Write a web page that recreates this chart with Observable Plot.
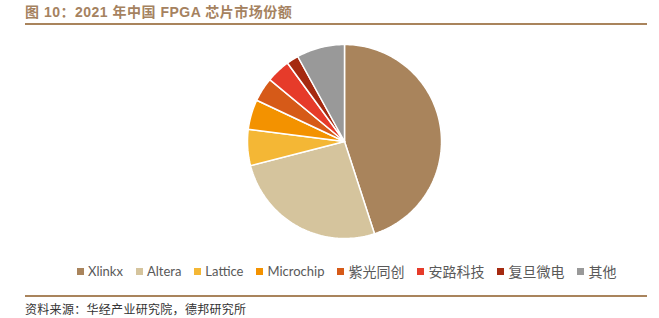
<!DOCTYPE html>
<html>
<head>
<meta charset="utf-8">
<script src="https://cdn.jsdelivr.net/npm/d3@7"></script>
<script src="https://cdn.jsdelivr.net/npm/@observablehq/plot@0.6"></script>
<style>
  body { margin: 0; background: #fff; }
  #wrap { position: relative; width: 659px; height: 318px; overflow: hidden; font-family: "Noto Sans", "Noto Sans CJK SC", sans-serif; }
  #title { position: absolute; left: 25px; top: 1px; font-size: 14px; letter-spacing: 0.5px; font-weight: bold; color: #A5825F; white-space: nowrap; font-family: "Liberation Sans", "Noto Sans CJK SC", sans-serif; }
  .rule { position: absolute; left: 25px; width: 622px; height: 2px; background: #A9845C; }
  #chart { position: absolute; left: 0; top: 30px; }
  #legend { position: absolute; left: 77px; top: 261px; display: flex; align-items: center; font-size: 13px; color: #595959; white-space: nowrap; font-family: "Lato", "Noto Sans CJK SC", sans-serif; }
  .item { display: flex; align-items: center; margin-right: 13px; }
  .sw { width: 7px; height: 7px; margin-right: 4px; }
  .cjk { font-family: "Noto Sans CJK SC", sans-serif; font-size: 14px; }
  #caption { position: absolute; left: 25px; top: 300px; font-size: 12px; letter-spacing: 0.3px; color: #333; font-family: "Noto Sans CJK SC", sans-serif; white-space: nowrap; }
</style>
</head>
<body>
<div id="wrap">
  <div id="title">图 10：2021 年中国 FPGA 芯片市场份额</div>
  <div class="rule" style="top:23px"></div>
  <div id="chart"></div>
  <div id="legend"></div>
  <div class="rule" style="top:295px"></div>
  <div id="caption">资料来源：华经产业研究院，德邦研究所</div>
</div>
<script>
const categories = ["Xlinkx", "Altera", "Lattice", "Microchip", "紫光同创", "安路科技", "复旦微电", "其他"];
const shares = [45, 26, 6, 5, 4, 4, 2, 8];
const colors = ["#A9845C", "#D5C49D", "#F4B735", "#F39200", "#D65A18", "#E63B2A", "#A52A10", "#999999"];

// Build slice polygons from the shares (angles clockwise from 12 o'clock)
const total = d3.sum(shares);
const pts = [];
let acc = 0;
categories.forEach((c, i) => {
  const a0 = acc / total * 2 * Math.PI;
  acc += shares[i];
  const a1 = acc / total * 2 * Math.PI;
  pts.push({cat: c, x: 0, y: 0});
  const n = Math.max(2, Math.ceil((a1 - a0) / (Math.PI / 180)));
  for (let k = 0; k <= n; k++) {
    const a = a0 + (a1 - a0) * k / n;
    pts.push({cat: c, x: Math.sin(a), y: Math.cos(a)});
  }
  pts.push({cat: c, x: 0, y: 0});
});

const cx = 344, r = 97, H = 220, cy = 111;
const plot = Plot.plot({
  width: 659,
  height: H,
  marginLeft: cx - r,
  marginRight: 659 - (cx + r),
  marginTop: cy - r,
  marginBottom: H - (cy + r),
  x: {domain: [-1, 1], axis: null},
  y: {domain: [-1, 1], axis: null},
  color: {domain: categories, range: colors},
  marks: [
    Plot.line(pts, {x: "x", y: "y", z: "cat", fill: "cat", stroke: "white", strokeWidth: 1.5, strokeLinejoin: "miter", curve: "linear"})
  ]
});
document.getElementById("chart").appendChild(plot);

const legend = document.getElementById("legend");
categories.forEach((c, i) => {
  const it = document.createElement("div");
  it.className = "item";
  const isCjk = /[\u4e00-\u9fff]/.test(c);
  it.innerHTML = `<span class="sw" style="background:${colors[i]}"></span><span class="${isCjk ? "cjk" : ""}">${c}</span>`;
  legend.appendChild(it);
});
</script>
</body>
</html>
